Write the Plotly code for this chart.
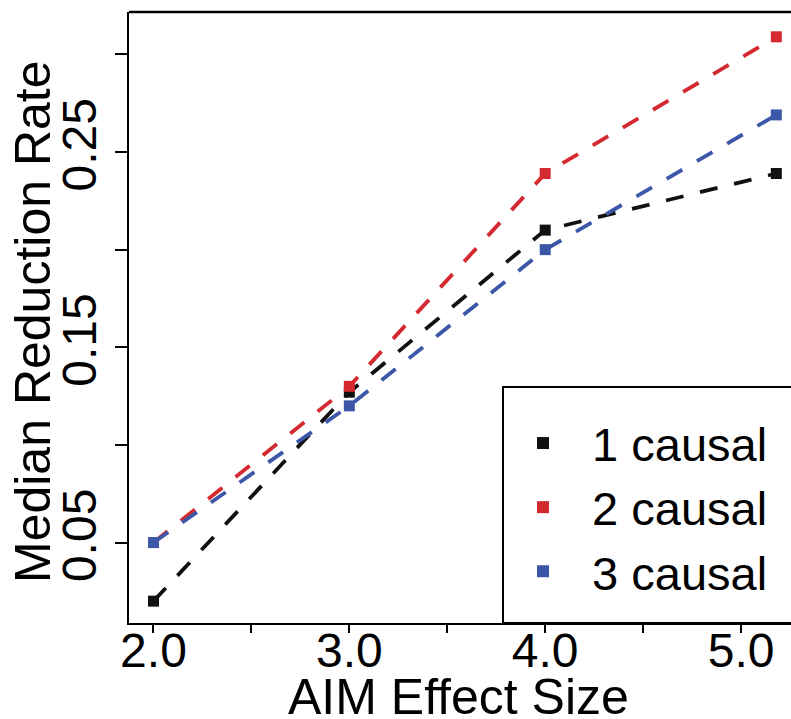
import plotly.graph_objects as go

# Data
effect_size = [2.0, 3.0, 4.0, 5.18]
causal_1 = [0.020, 0.127, 0.210, 0.239]
causal_2 = [0.050, 0.130, 0.239, 0.309]
causal_3 = [0.050, 0.120, 0.200, 0.269]
series_names = ["1 causal", "2 causal", "3 causal"]
series_colors = ["#111111", "#d42a2f", "#3d57a8"]

x_tickvals = [2.0, 2.5, 3.0, 3.5, 4.0, 4.5, 5.0]
x_ticktext = ["2.0", "", "3.0", "", "4.0", "", "5.0"]
y_tickvals = [0.05, 0.10, 0.15, 0.20, 0.25, 0.30]
y_ticktext = ["0.05", "", "0.15", "", "0.25", ""]
x_title = "AIM Effect Size"
y_title = "Median Reduction Rate"

FONT = "Liberation Sans, Arial, Helvetica, sans-serif"
W, H = 791, 719
ML, MR, MT, MB = 129, 0, 12, 96

fig = go.Figure()
for name, ys, col in zip(series_names, [causal_1, causal_2, causal_3], series_colors):
    fig.add_trace(go.Scatter(
        x=effect_size, y=ys, mode="lines+markers", name=name,
        line=dict(color=col, width=3.8, dash="18px,17px"),
        marker=dict(symbol="square", size=11, color=col),
        showlegend=False, cliponaxis=False,
    ))
    # legend-only entry (marker only)
    fig.add_trace(go.Scatter(
        x=[None], y=[None], mode="markers", name="\u00a0\u00a0" + name,
        marker=dict(symbol="square", size=12, color=col),
        showlegend=True,
    ))

plot_w = W - ML - MR
plot_h = H - MT - MB

def px_to_paper_x(px):
    return (px - ML) / plot_w

def px_to_paper_y(py):
    return (H - MB - py) / plot_h

# legend box (extends beyond right edge)
fig.add_shape(type="rect", xref="paper", yref="paper",
              x0=px_to_paper_x(503), x1=1.1, y0=0, y1=px_to_paper_y(387),
              line=dict(color="black", width=2), fillcolor="rgba(0,0,0,0)",
              layer="above")
# top border
fig.add_shape(type="line", xref="paper", yref="paper",
              x0=0, x1=1, y0=1, y1=1, line=dict(color="black", width=2.5))

# axis titles
fig.add_annotation(text=x_title, xref="paper", yref="paper",
                   x=px_to_paper_x(458), y=px_to_paper_y(697),
                   xanchor="center", yanchor="middle", showarrow=False,
                   font=dict(size=50, family=FONT, color="black"))
fig.add_annotation(text=y_title, xref="paper", yref="paper",
                   x=px_to_paper_x(33), y=px_to_paper_y(322),
                   xanchor="center", yanchor="middle", showarrow=False, textangle=-90,
                   font=dict(size=50, family=FONT, color="black"))

fig.update_layout(
    width=W, height=H,
    margin=dict(l=ML, r=MR, t=MT, b=MB),
    plot_bgcolor="white", paper_bgcolor="white",
    font=dict(family=FONT, color="black"),
    showlegend=True,
    legend=dict(
        x=px_to_paper_x(520), y=px_to_paper_y(406), xanchor="left", yanchor="top",
        font=dict(size=47, family=FONT, color="black"),
        bgcolor="rgba(0,0,0,0)", borderwidth=0,
        tracegroupgap=0, itemsizing="constant", itemwidth=36,
    ),
    xaxis=dict(
        range=[1.875, 5.255], tickvals=x_tickvals, ticktext=x_ticktext,
        showgrid=False, zeroline=False, showline=True, linecolor="black", linewidth=2,
        ticks="outside", ticklen=8, tickwidth=2, tickcolor="black",
        ticklabelstandoff=-24,
        tickfont=dict(size=48, family=FONT, color="black"),
    ),
    yaxis=dict(
        range=[0.0088, 0.3217], tickvals=y_tickvals, ticktext=y_ticktext,
        showgrid=False, zeroline=False, showline=True, linecolor="black", linewidth=2,
        ticks="outside", ticklen=12, tickwidth=2, tickcolor="black",
        tickangle=-90,
        tickfont=dict(size=48, family=FONT, color="black"),
    ),
)

fig.write_html("out.html", config={"displayModeBar": False},
               post_script="document.body.style.margin='0';document.body.style.overflow='hidden';")
